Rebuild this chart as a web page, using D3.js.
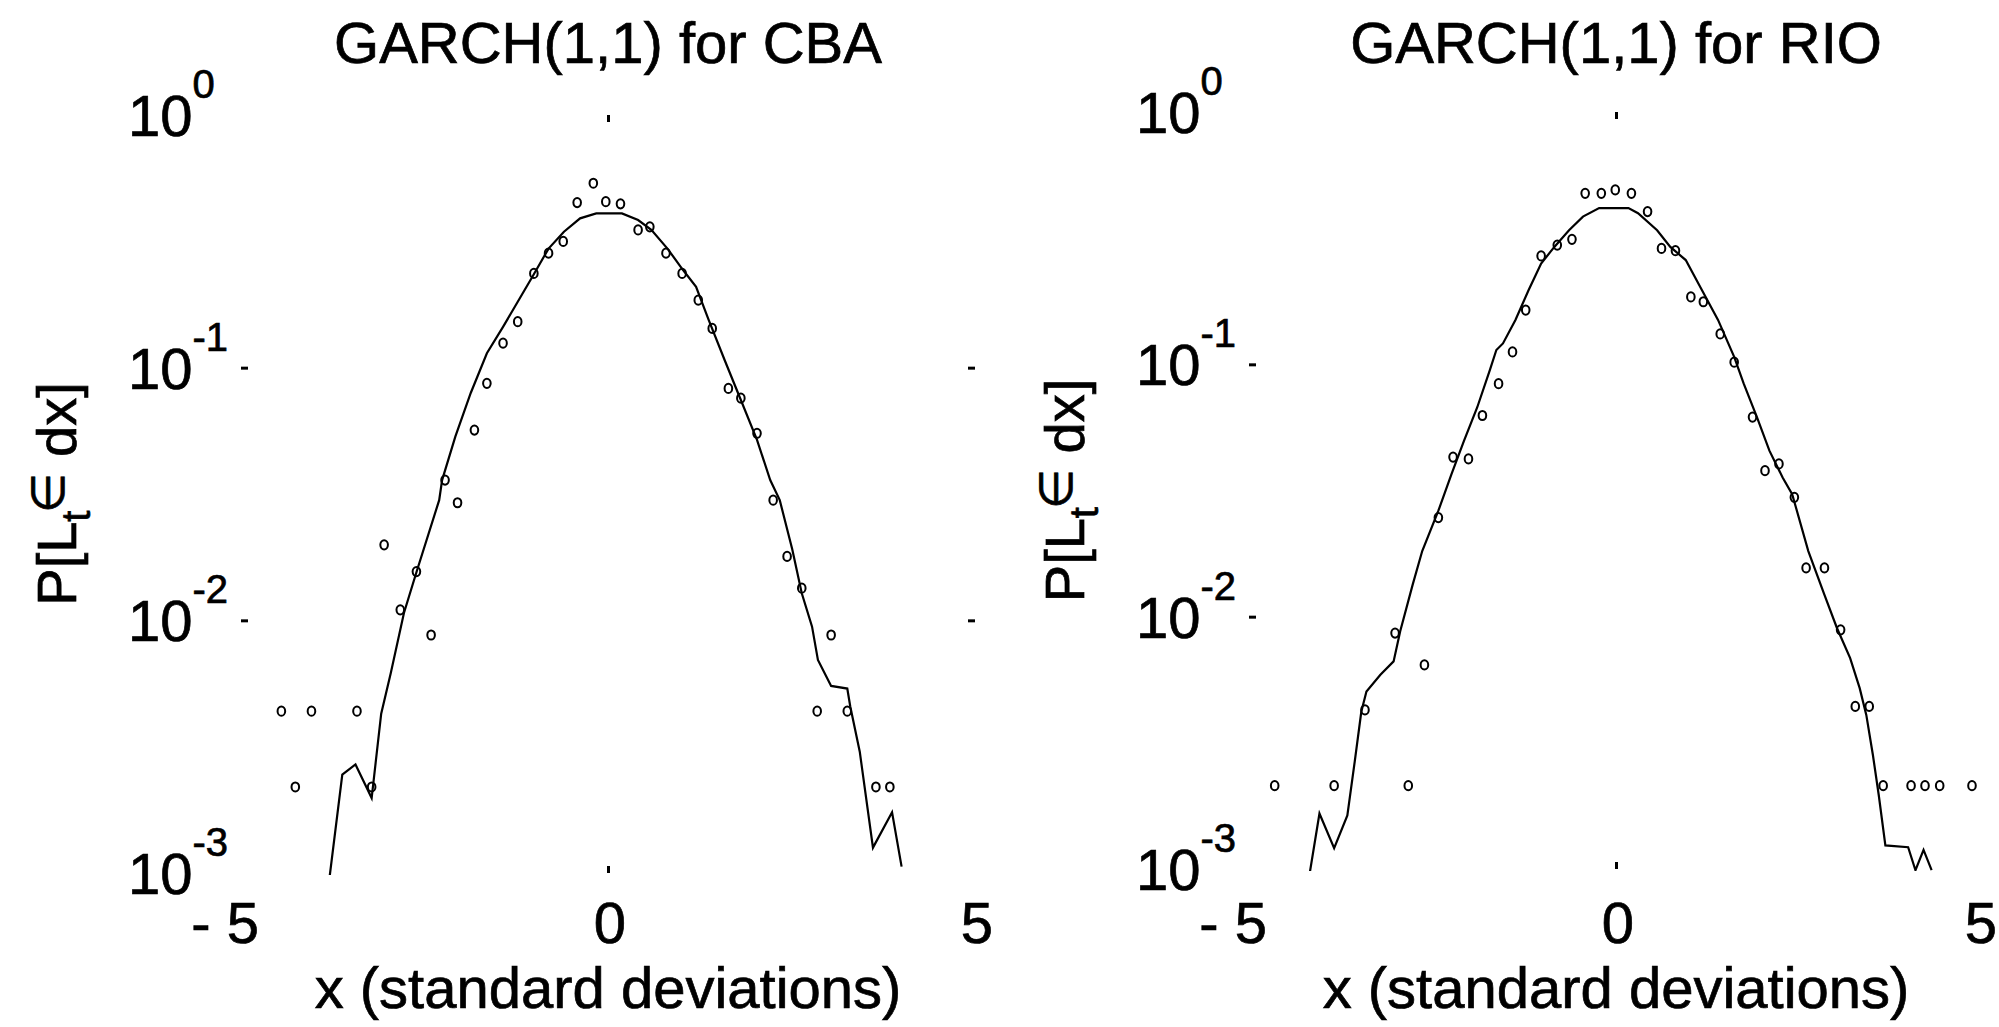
<!DOCTYPE html>
<html>
    <head>
        <script src="https://d3js.org/d3.v7.min.js"></script>
        <style>
            body { margin: 0; background: #fff; }
            text { font-family: "Liberation Sans", Arial, sans-serif; fill: #000; stroke: #000; stroke-width: 0.7px; }
        </style>
    </head>
    <body>
        <svg height="1027" width="1999" id="chart"></svg>
        <script>
            // values (x in std devs, y = probability density)
            const titles = ["GARCH(1,1) for CBA", "GARCH(1,1) for RIO"];
            const xTicks = [-5, 0, 5];
            const xTickLabels = ["- 5", "0", "5"];
            const yTicks = [1, 0.1, 0.01, 0.001];
            const yTickExps = ["0", "-1", "-2", "-3"];

            const cbaLineX = [-3.79, -3.62, -3.44, -3.22, -3.09, -2.96, -2.78, -2.61, -2.30, -2.26, -2.08, -1.87, -1.65, -1.43, -1.03, -0.81, -0.60, -0.38, -0.16, 0.19, 0.41, 0.59, 0.81, 1.02, 1.20, 1.37, 1.59, 1.81, 2.03, 2.21, 2.34, 2.51, 2.64, 2.78, 2.86, 3.04, 3.26, 3.30, 3.43, 3.61, 3.87, 4.00];
            const cbaLineY = [0.00098, 0.00245, 0.00269, 0.00198, 0.00427, 0.00617, 0.0107, 0.0155, 0.0299, 0.0359, 0.0533, 0.0794, 0.114, 0.145, 0.229, 0.296, 0.345, 0.390, 0.408, 0.408, 0.384, 0.351, 0.296, 0.244, 0.209, 0.155, 0.107, 0.0745, 0.0518, 0.0359, 0.0299, 0.0191, 0.0128, 0.00944, 0.00697, 0.00550, 0.00537, 0.00457, 0.00302, 0.00126, 0.00174, 0.00106];
            const cbaDotX = [-0.20, -0.42, -0.03, 0.17, 0.41, 0.57, -0.61, -0.81, -1.01, 0.79, 1.01, 1.23, -1.23, -1.43, 1.42, -1.65, 1.64, 1.81, -1.82, 2.03, -2.22, -2.05, 2.25, -3.05, 2.44, -2.61, 2.64, -2.83, -2.41, 3.04, -4.45, -4.04, -3.42, 2.85, 3.26, -4.26, -3.22, 3.65, 3.84];
            const cbaDotY = [0.537, 0.450, 0.454, 0.445, 0.351, 0.361, 0.316, 0.284, 0.236, 0.284, 0.236, 0.185, 0.152, 0.125, 0.143, 0.0867, 0.0828, 0.0757, 0.0566, 0.0550, 0.0359, 0.0292, 0.0299, 0.0199, 0.0179, 0.0156, 0.0134, 0.0110, 0.00875, 0.00875, 0.00437, 0.00437, 0.00437, 0.00437, 0.00437, 0.00219, 0.00219, 0.00219, 0.00219];

            const rioLineX = [-4.17, -4.04, -3.84, -3.66, -3.56, -3.47, -3.40, -3.21, -3.03, -2.94, -2.77, -2.64, -2.42, -2.24, -2.07, -1.89, -1.72, -1.63, -1.54, -1.37, -1.19, -1.02, -0.84, -0.64, -0.45, -0.23, 0.17, 0.30, 0.56, 0.74, 0.95, 1.17, 1.39, 1.61, 1.74, 1.92, 2.09, 2.27, 2.40, 2.62, 2.84, 3.01, 3.19, 3.32, 3.41, 3.50, 3.58, 3.67, 3.98, 4.08, 4.19, 4.30];
            const rioLineY = [0.000973, 0.00166, 0.00121, 0.00163, 0.00266, 0.00420, 0.00505, 0.00589, 0.00665, 0.00875, 0.0134, 0.0182, 0.0263, 0.0368, 0.0499, 0.0676, 0.0946, 0.114, 0.121, 0.150, 0.197, 0.251, 0.292, 0.340, 0.385, 0.416, 0.416, 0.397, 0.340, 0.292, 0.259, 0.197, 0.150, 0.107, 0.0838, 0.0618, 0.0455, 0.0356, 0.0306, 0.0182, 0.0122, 0.00902, 0.00685, 0.00521, 0.00408, 0.00283, 0.00196, 0.00124, 0.00122, 0.000989, 0.00119, 0.000989];
            const rioDotX = [-0.42, -0.20, -0.01, 0.21, 0.43, -0.60, -0.80, -1.02, 0.62, 0.81, 1.02, 1.19, -1.23, 1.42, -1.41, 1.61, -1.60, -1.82, 1.86, -2.22, -2.01, 2.03, 2.22, 2.43, -2.42, 2.59, 2.84, -3.01, 3.06, -2.61, -3.42, 3.26, 3.45, -4.65, -3.84, -2.83, 3.64, 4.02, 4.21, 4.41, 4.85];
            const rioDotY = [0.476, 0.476, 0.491, 0.476, 0.403, 0.313, 0.297, 0.269, 0.288, 0.282, 0.185, 0.177, 0.164, 0.132, 0.112, 0.102, 0.0838, 0.0627, 0.0618, 0.0429, 0.0422, 0.0379, 0.0403, 0.0297, 0.0247, 0.0156, 0.0156, 0.00861, 0.00887, 0.00644, 0.00427, 0.00441, 0.00441, 0.00214, 0.00214, 0.00214, 0.00214, 0.00214, 0.00214, 0.00214, 0.00214];

            let svg=d3.select("#chart");

            const panels=[
                {title: titles[0], lx: cbaLineX, ly: cbaLineY, dx: cbaDotX, dy: cbaDotY, left: 241, top: 115, bottom: 873, rightTicks: true},
                {title: titles[1], lx: rioLineX, ly: rioLineY, dx: rioDotX, dy: rioDotY, left: 1249, top: 112, bottom: 869, rightTicks: false}
            ];
            const plotW=734;

            panels.forEach(function(p, i){
                let g=svg.append("g");
                let x=d3.scaleLinear().domain([-5, 5]).range([p.left, p.left+plotW]);
                let y=d3.scaleLog().domain([0.001, 1]).range([p.bottom, p.top]);
                let cx=(p.left+p.left+plotW)/2;

                let clipId="clip"+i;
                svg.append("clipPath").attr("id", clipId)
                    .append("rect").attr("x", p.left).attr("y", p.top)
                    .attr("width", plotW).attr("height", p.bottom-p.top+2);

                // only the few tick marks that survive in the scan
                g.append("g").attr("transform", "translate("+p.left+",0)")
                    .call(d3.axisLeft(y).tickValues([0.1, 0.01]).tickSize(-7).tickFormat(""));
                if(p.rightTicks){
                    g.append("g").attr("transform", "translate("+(p.left+plotW)+",0)")
                        .call(d3.axisRight(y).tickValues([0.1, 0.01]).tickSize(-7).tickFormat(""));
                }
                g.append("g").attr("transform", "translate(0,"+p.top+")")
                    .call(d3.axisTop(x).tickValues([0]).tickSize(-7).tickFormat(""));
                g.append("g").attr("transform", "translate(0,"+p.bottom+")")
                    .call(d3.axisBottom(x).tickValues([0]).tickSize(-7).tickFormat(""));
                g.selectAll(".domain").remove();
                g.selectAll(".tick line").attr("stroke", "#000").attr("stroke-width", 3);

                // y tick labels 10^k
                yTicks.forEach(function(t, k){
                    let lab=g.append("text")
                        .attr("x", p.left-113)
                        .attr("y", y(t)+21)
                        .style("font-size", "58px");
                    lab.append("tspan").text("10");
                    lab.append("tspan").attr("dy", -38).style("font-size", "40px").text(yTickExps[k]);
                });

                // x tick labels
                xTicks.forEach(function(t, k){
                    g.append("text")
                        .attr("x", Math.min(x(t)+18, 1997))
                        .attr("y", 943)
                        .attr("text-anchor", "end")
                        .style("font-size", "58px")
                        .text(xTickLabels[k]);
                });

                g.append("text")
                    .attr("x", cx).attr("y", 63)
                    .attr("text-anchor", "middle")
                    .style("font-size", "58px")
                    .text(p.title);

                g.append("text")
                    .attr("x", cx).attr("y", 1008)
                    .attr("text-anchor", "middle")
                    .style("font-size", "58px")
                    .text("x (standard deviations)");

                let yl=g.append("text")
                    .attr("transform", "translate("+(p.left-165)+","+((p.top+p.bottom)/2)+") rotate(-90)")
                    .attr("text-anchor", "middle")
                    .style("font-size", "56px");
                yl.append("tspan").text("P[L");
                yl.append("tspan").attr("dy", 14).style("font-size", "40px").text("t");
                yl.append("tspan").attr("dy", -26).attr("dx", -2).style("font-size", "46px").text("\u2208");
                yl.append("tspan").attr("dy", 12).text(" dx]");

                let line=d3.line().x(d => x(d[0])).y(d => y(d[1]));
                g.append("path")
                    .datum(d3.zip(p.lx, p.ly))
                    .attr("clip-path", "url(#"+clipId+")")
                    .attr("d", line)
                    .style("fill", "none")
                    .style("stroke", "#000")
                    .style("stroke-width", 2.2);

                g.selectAll(".dot")
                    .data(d3.zip(p.dx, p.dy))
                    .join("ellipse")
                    .attr("class", "dot")
                    .attr("cx", d => x(d[0]))
                    .attr("cy", d => y(d[1]))
                    .attr("rx", 3.8)
                    .attr("ry", 4.6)
                    .style("fill", "none")
                    .style("stroke", "#000")
                    .style("stroke-width", 2);
            });
        </script>
    </body>
</html>
